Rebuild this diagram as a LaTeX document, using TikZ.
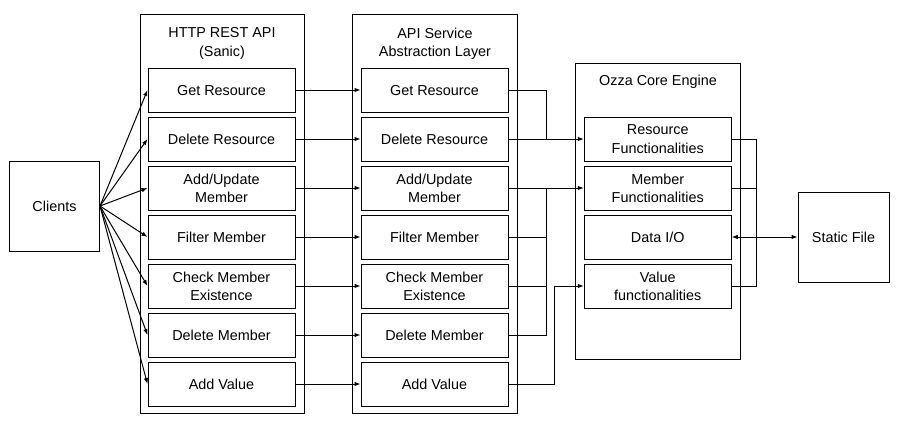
\documentclass[tikz,border=0pt]{standalone}
\usepackage{fontspec}
\setmainfont{Liberation Sans}
\usetikzlibrary{arrows.meta}
\begin{document}
\begin{tikzpicture}[x=1pt,y=-1pt,
  every node/.style={font=\fontsize{14.4}{18.3}\selectfont, align=center, inner sep=0pt},
  box/.style={draw, line width=1pt, fill=white, minimum width=147pt, minimum height=44pt, text depth=0pt},
  cont/.style={draw, line width=1pt},
  big/.style={draw, line width=1pt, minimum width=90pt, minimum height=90pt},
  ln/.style={line width=1pt},
  arr/.style={line width=1pt, -{Latex[length=6pt,width=4.5pt]}},
  arrb/.style={line width=1pt, {Latex[length=6pt,width=4.5pt]}-{Latex[length=6pt,width=4.5pt]}}]
\useasboundingbox (0,0) rectangle (908,434);
% containers
\draw[cont] (140,14) rectangle (304,413);
\draw[cont] (352.5,14) rectangle (517.5,413);
\draw[cont] (575,63) rectangle (740.5,359);
\node (th) at (222,43.5) {HTTP REST API\\(Sanic)};
\node (ta) at (435,43.5) {API Service\\Abstraction Layer};
\node (tc) at (658,81.5) {Ozza Core Engine};
% clients / static
\node[big] (cl) at (54.5,206) {Clients};
\node[big, minimum width=91pt] (sf) at (843.5,237) {Static File};
% HTTP boxes
\node[box] (h1) at (221.5,90) {Get Resource};
\node[box] (h2) at (221.5,139) {Delete Resource};
\node[box] (h3) at (221.5,188) {Add/Update\\Member};
\node[box] (h4) at (221.5,237) {Filter Member};
\node[box] (h5) at (221.5,286) {Check Member\\Existence};
\node[box] (h6) at (221.5,335) {Delete Member};
\node[box] (h7) at (221.5,384) {Add Value};
% API boxes
\node[box] (a1) at (434.5,90) {Get Resource};
\node[box] (a2) at (434.5,139) {Delete Resource};
\node[box] (a3) at (434.5,188) {Add/Update\\Member};
\node[box] (a4) at (434.5,237) {Filter Member};
\node[box] (a5) at (434.5,286) {Check Member\\Existence};
\node[box] (a6) at (434.5,335) {Delete Member};
\node[box] (a7) at (434.5,384) {Add Value};
% Core boxes
\node[box] (cr) at (657.75,139) {Resource\\Functionalities};
\node[box] (cm) at (657.75,188) {Member\\Functionalities};
\node[box] (cd) at (657.75,237) {Data I/O};
\node[box] (cv) at (657.75,286) {Value\\functionalities};
% clients -> http
\foreach \i in {1,...,7} {
  \draw[arr] (cl.east) -- (h\i.west);
  \draw[arr] (h\i.east) -- (a\i.west);
}
% api -> core
\coordinate (jr) at (546.5,139);
\coordinate (jm) at (546.5,188);
\coordinate (k7) at (554,384);
\draw[ln] (a1.east) -| (jr);
\draw[arr] (a2.east) -- (cr.west);
\draw[arr] (a3.east) -- (cm.west);
\draw[ln] (a4.east) -| (jm);
\draw[ln] (a5.east) -| (jm);
\draw[ln] (a6.east) -| (jm);
\draw[arr] (a7.east) -- (k7) |- (cv.west);
% core -> static
\coordinate (rb) at (756,237);
\draw[ln] (cr.east) -| (rb);
\draw[ln] (cm.east) -| (rb);
\draw[ln] (cv.east) -| (rb);
\draw[arrb] (cd.east) -- (sf.west);
\end{tikzpicture}
\end{document}
